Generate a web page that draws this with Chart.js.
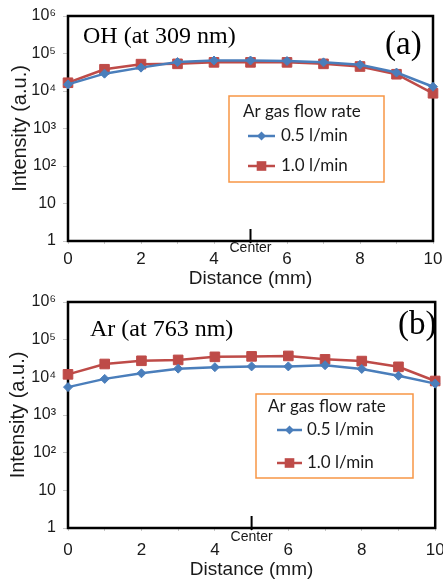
<!DOCTYPE html>
<html><head><meta charset="utf-8">
<script src="https://cdn.jsdelivr.net/npm/chart.js@4.4.0/dist/chart.umd.min.js"></script>
<style>
html,body{margin:0;padding:0;background:#fff;width:443px;height:579px;overflow:hidden}
canvas{position:absolute;left:0}
#ca{top:0}
#cb{top:290px}
</style></head>
<body>
<canvas id="ca" width="443" height="290"></canvas>
<canvas id="cb" width="443" height="289"></canvas>
<script>
// ---- data ----
const distance = [0, 1, 2, 3, 4, 5, 6, 7, 8, 9, 10];
const ohLow  = [15000, 29000, 42000, 59000, 65000, 65000, 63000, 58000, 50000, 31000, 13000];
const ohHigh = [16600, 38000, 52000, 53000, 58000, 58000, 58000, 53000, 45000, 28000, 8700];
const arLow  = [5500, 9100, 12800, 17000, 18600, 19500, 19500, 21000, 16700, 11000, 6800];
const arHigh = [12000, 22600, 27500, 29000, 35000, 36000, 37000, 30000, 27000, 19000, 8000];
const yTicks = [1, 10, 100, 1000, 10000, 100000, 1000000];
const yTickLabels = ['1', '10', '10\u00B2', '10\u00B3', '10\u2074', '10\u2075', '10\u2076'];
const xTickMarks = [0, 1, 2, 3, 4, 5, 6, 7, 8, 9, 10];
const xTickLabels = ['0', '', '2', '', '4', '', '6', '', '8', '', '10'];
const seriesNames = ['0.5 l/min', '1.0 l/min'];
const legendTitle = 'Ar gas flow rate';
const centerLabel = 'Center';
const centerValue = 5;
const panelTitles = ['OH (at 309 nm)', 'Ar (at 763 nm)'];
const panelTags = ['(a)', '(b)'];

// ---- styles / layout ----
const BLUE = '#4a7ebb', RED = '#be4b48', TXT = '#1a1a1a';
Chart.defaults.font.family = "'Liberation Sans', Arial, sans-serif";
Chart.defaults.color = TXT;

const layouts = [
  { canvas: 'ca', top: 16, right: 10, axisH: 49, xPad: 5, xTitlePad: 0, yTitlePad: 8.6,
    centerDy: 7, titleX: 83, titleY: 37, tagX: 385, tagY: 45,
    legend: { x: 229, y: 96, w: 155, h: 86, titleX: 243, titleY: 112, lineX1: 248, lineX2: 275, textX: 281, row1: 136, row2: 166 } },
  { canvas: 'cb', top: 12, right: 7, axisH: 51, xPad: 9, xTitlePad: -2, yTitlePad: 6.6,
    centerDy: 9, titleX: 90, titleY: 40, tagX: 398, tagY: 35,
    legend: { x: 256, y: 104, w: 157, h: 84, titleX: 268, titleY: 117, lineX1: 277, lineX2: 302, textX: 307, row1: 140, row2: 173 } }
];

function makeChart(idx, low, high) {
  const L = layouts[idx];
  const deco = {
    id: 'deco' + idx,
    beforeDatasetsDraw(chart) {
      const {ctx, chartArea: a} = chart;
      ctx.save();
      ctx.strokeStyle = '#000';
      ctx.lineWidth = 2.5;
      ctx.strokeRect(a.left, a.top, a.right - a.left, a.bottom - a.top);
      const cx = chart.scales.x.getPixelForValue(centerValue);
      ctx.lineWidth = 2;
      ctx.beginPath();
      ctx.moveTo(cx, a.bottom - 12);
      ctx.lineTo(cx, a.bottom + 2);
      ctx.stroke();
      ctx.restore();
    },
    afterDraw(chart) {
      const {ctx, chartArea: a} = chart;
      ctx.save();
      // center label
      const cx = chart.scales.x.getPixelForValue(centerValue);
      ctx.fillStyle = TXT;
      ctx.font = "14px 'Liberation Sans', Arial, sans-serif";
      ctx.textAlign = 'center';
      ctx.textBaseline = 'middle';
      ctx.fillText(centerLabel, cx, a.bottom + L.centerDy);
      // panel title + tag
      ctx.fillStyle = '#000';
      ctx.textAlign = 'left';
      ctx.font = "24px 'Liberation Serif', 'Times New Roman', serif";
      ctx.fillText(panelTitles[idx], L.titleX, L.titleY);
      ctx.font = "33px 'Liberation Serif', 'Times New Roman', serif";
      ctx.fillText(panelTags[idx], L.tagX, L.tagY);
      // legend
      const g = L.legend;
      ctx.fillStyle = '#fff';
      ctx.fillRect(g.x, g.y, g.w, g.h);
      ctx.strokeStyle = '#f79646';
      ctx.lineWidth = 1.5;
      ctx.strokeRect(g.x, g.y, g.w, g.h);
      ctx.fillStyle = TXT;
      ctx.font = "17px Lato, 'Open Sans', sans-serif";
      ctx.fillText(legendTitle, g.titleX, g.titleY);
      const ds = chart.data.datasets;
      [g.row1, g.row2].forEach((ry, i) => {
        const d = ds[i];
        ctx.strokeStyle = d.borderColor;
        ctx.lineWidth = d.borderWidth;
        ctx.beginPath();
        ctx.moveTo(g.lineX1, ry);
        ctx.lineTo(g.lineX2, ry);
        ctx.stroke();
        ctx.fillStyle = d.borderColor;
        ctx.beginPath();
        const r = d.pointRadius;
        const mx = (g.lineX1 + g.lineX2) / 2;
        if (d.pointStyle === 'rect') {
          const s = r * Math.SQRT1_2;
          ctx.rect(mx - s, ry - s, 2 * s, 2 * s);
        } else {
          ctx.moveTo(mx - r, ry); ctx.lineTo(mx, ry - r); ctx.lineTo(mx + r, ry); ctx.lineTo(mx, ry + r); ctx.closePath();
        }
        ctx.fill();
        ctx.fillStyle = TXT;
        ctx.fillText(seriesNames[i], g.textX, ry);
      });
      ctx.restore();
    }
  };

  return new Chart(document.getElementById(L.canvas), {
    type: 'line',
    data: {
      datasets: [
        { label: seriesNames[0], data: distance.map((x, i) => ({x, y: low[i]})),
          borderColor: BLUE, backgroundColor: BLUE, borderWidth: 2.5,
          pointStyle: 'rectRot', pointRadius: 4.5, pointBorderWidth: 1, clip: false, tension: 0 },
        { label: seriesNames[1], data: distance.map((x, i) => ({x, y: high[i]})),
          borderColor: RED, backgroundColor: RED, borderWidth: 2.5,
          pointStyle: 'rect', pointRadius: 6.8, pointBorderWidth: 1, clip: false, tension: 0 }
      ]
    },
    options: {
      responsive: false, animation: false, devicePixelRatio: 1,
      layout: { padding: { top: L.top, right: L.right, left: 0, bottom: 0 } },
      plugins: { legend: { display: false }, tooltip: { enabled: false } },
      scales: {
        x: {
          type: 'linear', min: 0, max: 10,
          grid: { display: true, drawOnChartArea: false, drawTicks: true, tickLength: 3, color: '#c8c8c8', lineWidth: 1 },
          border: { display: false },
          afterBuildTicks: s => { s.ticks = xTickMarks.map(v => ({value: v})); },
          afterFit: s => { s.height = L.axisH; s.paddingLeft = 0; s.paddingRight = 0; },
          ticks: { padding: L.xPad, font: { size: 17 }, color: TXT, maxRotation: 0, autoSkip: false,
                   callback: v => { const k = xTickMarks.indexOf(v); return k >= 0 ? xTickLabels[k] : ''; } },
          title: { display: true, text: 'Distance (mm)', font: { size: 19 }, color: TXT,
                   padding: { top: 0, bottom: L.xTitlePad } }
        },
        y: {
          type: 'logarithmic', min: 1, max: 1000000,
          grid: { display: true, drawOnChartArea: false, drawTicks: true, tickLength: 5, color: '#c8c8c8', lineWidth: 1 },
          border: { display: false },
          afterBuildTicks: s => { s.ticks = yTicks.map(v => ({value: v})); },
          afterFit: s => { s.width = 68; s.paddingTop = 0; s.paddingBottom = 0; },
          ticks: { padding: 7, font: { size: 16 }, color: TXT, autoSkip: false,
                   callback: v => { const k = yTicks.indexOf(v); return k >= 0 ? yTickLabels[k] : ''; } },
          title: { display: true, text: 'Intensity (a.u.)', font: { size: 20 }, color: TXT,
                   padding: { top: L.yTitlePad, bottom: 0 } }
        }
      }
    },
    plugins: [deco]
  });
}

makeChart(0, ohLow, ohHigh);
makeChart(1, arLow, arHigh);
</script>
</body></html>
